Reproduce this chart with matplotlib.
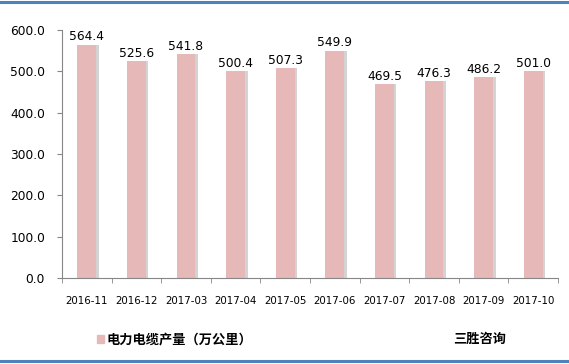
import matplotlib
matplotlib.use("Agg")
import matplotlib.pyplot as plt
from matplotlib.patches import Rectangle
from matplotlib.lines import Line2D
import numpy as np

plt.rcParams['font.family'] = ['Noto Sans CJK SC', 'DejaVu Sans']

categories = ['2016-11', '2016-12', '2017-03', '2017-04', '2017-05',
              '2017-06', '2017-07', '2017-08', '2017-09', '2017-10']
values = [564.4, 525.6, 541.8, 500.4, 507.3, 549.9, 469.5, 476.3, 486.2, 501.0]
yticks = [0, 100, 200, 300, 400, 500, 600]
series_name = '电力电缆产量（万公里）'
brand = '三胜咨询'

fig = plt.figure(figsize=(5.69, 3.64), dpi=100)
ax = fig.add_axes([62/569, 1-278/364, (558-62)/569, (278-30)/364])

x = np.arange(len(categories))
bw = 0.38
# shadow
ax.bar(x + 0.05, values, width=bw, color='#d3d3d3', zorder=1)
ax.bar(x, values, width=bw, color='#e6b9b8', zorder=2)
for xi, v in zip(x, values):
    ax.text(xi, v + 3, f'{v:.1f}', ha='center', va='bottom', fontsize=8.8,
            color='black', family='DejaVu Sans', zorder=3)

ax.set_xlim(-0.5, len(categories) - 0.5)
ax.set_ylim(0, 600)
ax.set_yticks(yticks)
ax.set_yticklabels([f'{t:.1f}' for t in yticks], fontsize=8.8, family='DejaVu Sans')
ax.set_xticks(x)
ax.set_xticklabels(categories, fontsize=7.4, family='DejaVu Sans')
ax.set_xticks(np.arange(-0.5, len(categories)), minor=True)
ax.tick_params(axis='x', which='major', length=0, pad=13)
ax.tick_params(axis='x', which='minor', length=3.6, color='#868686', direction='out')
ax.tick_params(axis='y', length=3.6, color='#868686', direction='out', pad=8.6)
for s in ['top', 'right']:
    ax.spines[s].set_visible(False)
ax.spines['left'].set_color('#868686')
ax.spines['bottom'].set_color('#868686')

# legend
fig.patches.append(Rectangle((97/569, 1-343/364), 7/569, 8/364,
                             transform=fig.transFigure, color='#e6b9b8'))
fig.text(107/569, 1-339/364, series_name, fontsize=9.5, fontweight='bold',
         va='center', ha='left')
fig.text(453/569, 1-339/364, brand, fontsize=9.5, fontweight='bold',
         va='center', ha='left')

# borders
fig.lines.append(Line2D([0, 1], [1-1.5/364, 1-1.5/364], transform=fig.transFigure,
                        color='#4f81bd', lw=2.2))
fig.lines.append(Line2D([0, 1], [1-360.5/364, 1-360.5/364], transform=fig.transFigure,
                        color='#4f81bd', lw=2.2))

fig.savefig('out.png', dpi=100)
